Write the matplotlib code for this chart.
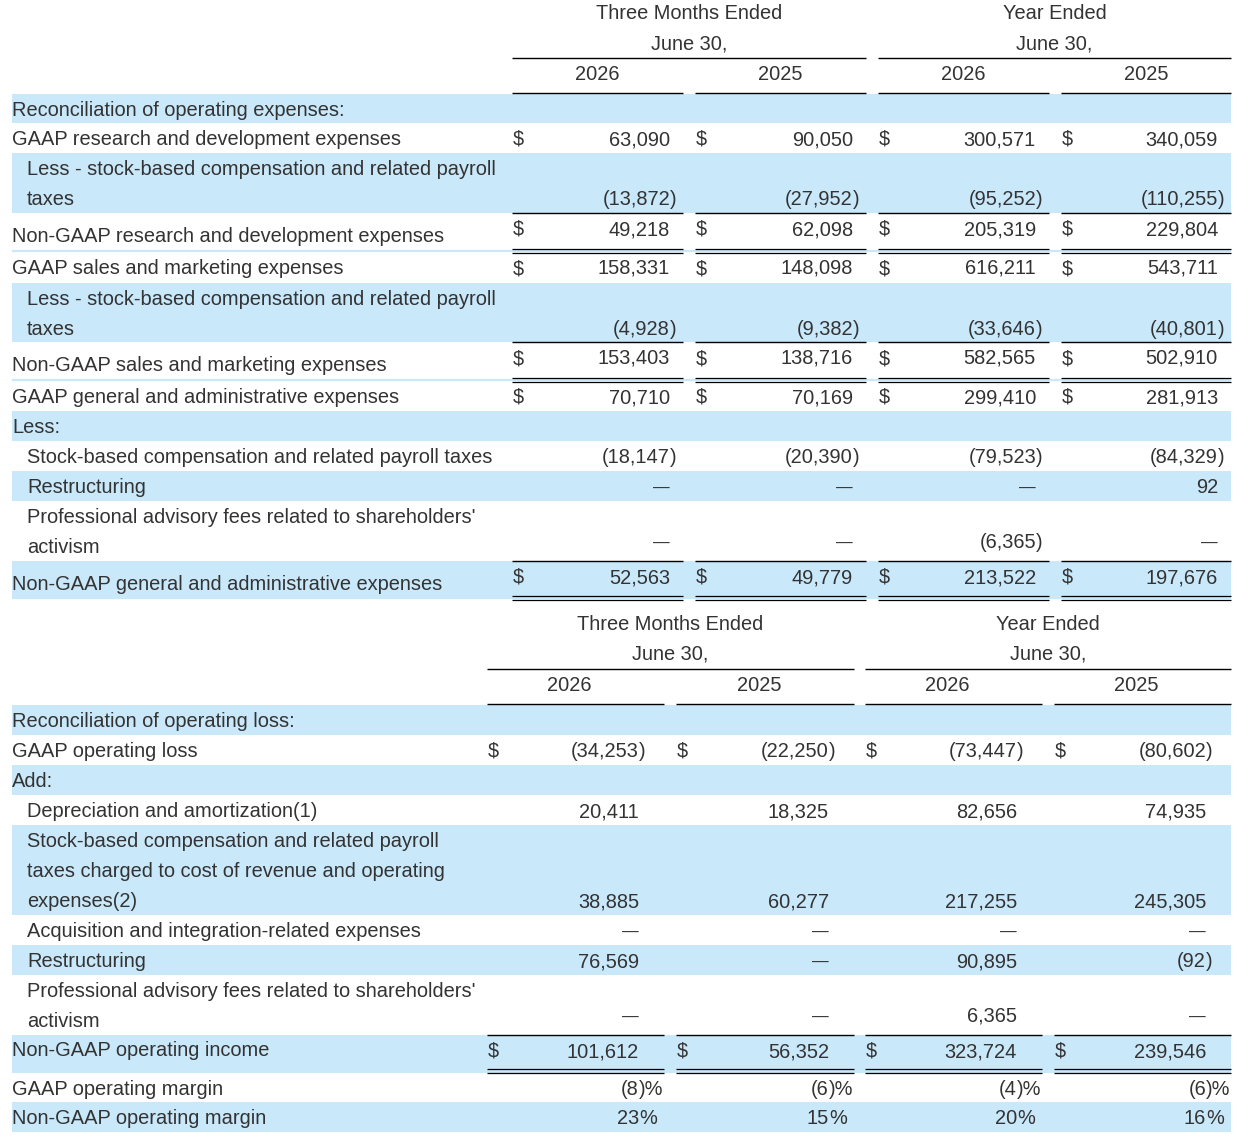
import matplotlib.pyplot as plt

plt.rcParams['font.family'] = ['Liberation Sans', 'DejaVu Sans']

TEXT = '#333333'
SHADE = '#c9e8fa'
FS = 14.4

# ---- table 1: operating expenses
OPEX_LABELS = [
    "Reconciliation of operating expenses:",
    "GAAP research and development expenses",
    "Less - stock-based compensation and related payroll\ntaxes",
    "Non-GAAP research and development expenses",
    "GAAP sales and marketing expenses",
    "Less - stock-based compensation and related payroll\ntaxes",
    "Non-GAAP sales and marketing expenses",
    "GAAP general and administrative expenses",
    "Less:",
    "Stock-based compensation and related payroll taxes",
    "Restructuring",
    "Professional advisory fees related to shareholders'\nactivism",
    "Non-GAAP general and administrative expenses",
]
OPEX_Q26 = [None, 63090, -13872, 49218, 158331, -4928, 153403, 70710, None, -18147, 0, 0, 52563]
OPEX_Q25 = [None, 90050, -27952, 62098, 148098, -9382, 138716, 70169, None, -20390, 0, 0, 49779]
OPEX_Y26 = [None, 300571, -95252, 205319, 616211, -33646, 582565, 299410, None, -79523, 0, -6365, 213522]
OPEX_Y25 = [None, 340059, -110255, 229804, 543711, -40801, 502910, 281913, None, -84329, 92, 0, 197676]

# ---- table 2: operating loss
OPLOSS_LABELS = [
    "Reconciliation of operating loss:",
    "GAAP operating loss",
    "Add:",
    "Depreciation and amortization(1)",
    "Stock-based compensation and related payroll\ntaxes charged to cost of revenue and operating\nexpenses(2)",
    "Acquisition and integration-related expenses",
    "Restructuring",
    "Professional advisory fees related to shareholders'\nactivism",
    "Non-GAAP operating income",
    "GAAP operating margin",
    "Non-GAAP operating margin",
]
OPLOSS_Q26 = [None, -34253, None, 20411, 38885, 0, 76569, 0, 101612, -8, 23]
OPLOSS_Q25 = [None, -22250, None, 18325, 60277, 0, 0, 0, 56352, -6, 15]
OPLOSS_Y26 = [None, -73447, None, 82656, 217255, 0, 90895, 6365, 323724, -4, 20]
OPLOSS_Y25 = [None, -80602, None, 74935, 245305, 0, -92, 0, 239546, -6, 16]

PERIODS = ["Three Months Ended\nJune 30,", "Year Ended\nJune 30,"]
YEARS = ["2026", "2025", "2026", "2025"]


def put(ax, x, yc, s, size=FS, **kw):
    # yc = visual centre of the line, text drawn on its baseline
    ax.text(x, yc + 7, s, va='baseline', fontsize=size, color=TEXT, **kw)


def draw_value(ax, x_end, yc, v, pct=False):
    if v is None:
        return
    if v == 0 and not pct:
        put(ax, x_end, yc, "\u2014", size=12, ha='right')
        return
    body = f"{abs(v):,}"
    suffix = ""
    if v < 0:
        body = "(" + body
        suffix = ")"
    if pct:
        suffix += "%"
    put(ax, x_end, yc, body, ha='right')
    if suffix:
        put(ax, x_end, yc, suffix, ha='left')


def hline(ax, y, x0, x1, color='black', lw=1.0):
    ax.plot([x0, x1], [y, y], color=color, lw=lw, solid_capstyle='butt')


def draw_table(ax, labels, cols, layout):
    tops = layout['tops']
    bottoms = tops[1:] + [layout['end']]
    spans = layout['spans']
    pad = layout['pad']

    # header
    for g, text in enumerate(PERIODS):
        x0, x1 = spans[2 * g][0], spans[2 * g + 1][1]
        for k, line in enumerate(text.split("\n")):
            put(ax, (x0 + x1) / 2, layout['head_y'] + 30 * k, line, ha='center')
        hline(ax, layout['head_line'], x0, x1)
    for (x0, x1), yr in zip(spans, YEARS):
        put(ax, (x0 + x1) / 2 + layout['year_dx'], layout['year_y'], yr, ha='center')
        hline(ax, layout['year_line'], x0, x1)

    for i, label in enumerate(labels):
        top, bot = tops[i], bottoms[i]
        if i in layout['shaded']:
            ax.fill_between([12, 1231], top, bot, color=SHADE, lw=0)
        lines = label.split("\n")
        is_total = i in layout['totals']
        ly = top + (layout['total_label_dy'] if is_total else 15)
        x = 27 if i in layout['indent'] else 12
        for k, line in enumerate(lines):
            put(ax, x, ly + 30 * k, line, ha='left')
        vy = top + 15 if is_total else ly + 30 * (len(lines) - 1) - layout['multi_dy'].get(i, 0)
        for c, (x0, x1) in enumerate(spans):
            if i in layout['dollar']:
                put(ax, x0 + 1, vy, "$", ha='left')
            draw_value(ax, x1 - pad, vy, cols[c][i], pct=i in layout['pct'])
        if is_total:
            for x0, x1 in spans:
                hline(ax, top, x0, x1)
            yb = layout['double'][i]
            hline(ax, yb, 12, 1231, color=SHADE, lw=1.6)
            for x0, x1 in spans:
                hline(ax, yb - 1.6, x0, x1, lw=0.9)
                hline(ax, yb + 1.6, x0, x1, lw=0.9)


fig = plt.figure(figsize=(12.42, 11.46), dpi=100)
ax = fig.add_axes([0, 0, 1, 1])
ax.set_xlim(0, 1242)
ax.set_ylim(1146, 0)
ax.axis('off')

opex_layout = {
    'tops': [94, 123, 153, 213, 252, 283, 342, 381, 411, 441, 471, 501, 561],
    'end': 599,
    'spans': [(512, 683), (695, 866), (878, 1049), (1061, 1231)],
    'pad': 13,
    'head_y': 12, 'head_line': 58, 'year_y': 73, 'year_line': 93, 'year_dx': 0,
    'shaded': {0, 2, 5, 8, 10, 12},
    'indent': {2, 5, 9, 10, 11},
    'dollar': {1, 3, 4, 6, 7, 12},
    'totals': {3, 6, 12},
    'pct': set(),
    'total_label_dy': 22,
    'multi_dy': {11: 5},
    'double': {3: 251, 6: 380, 12: 598},
}
draw_table(ax, OPEX_LABELS, [OPEX_Q26, OPEX_Q25, OPEX_Y26, OPEX_Y25], opex_layout)

oploss_layout = {
    'tops': [705, 735, 765, 795, 825, 915, 945, 975, 1035, 1073, 1102],
    'end': 1132,
    'spans': [(487, 664), (676, 854), (865, 1042), (1054, 1231)],
    'pad': 25,
    'head_y': 623, 'head_line': 669, 'year_y': 684, 'year_line': 704, 'year_dx': -6,
    'shaded': {0, 2, 4, 6, 8, 10},
    'indent': {3, 4, 5, 6, 7},
    'dollar': {1, 8},
    'totals': {8},
    'pct': {9, 10},
    'total_label_dy': 14,
    'multi_dy': {7: 5},
    'double': {8: 1071},
}
draw_table(ax, OPLOSS_LABELS, [OPLOSS_Q26, OPLOSS_Q25, OPLOSS_Y26, OPLOSS_Y25], oploss_layout)

fig.savefig("out.png", dpi=100)
